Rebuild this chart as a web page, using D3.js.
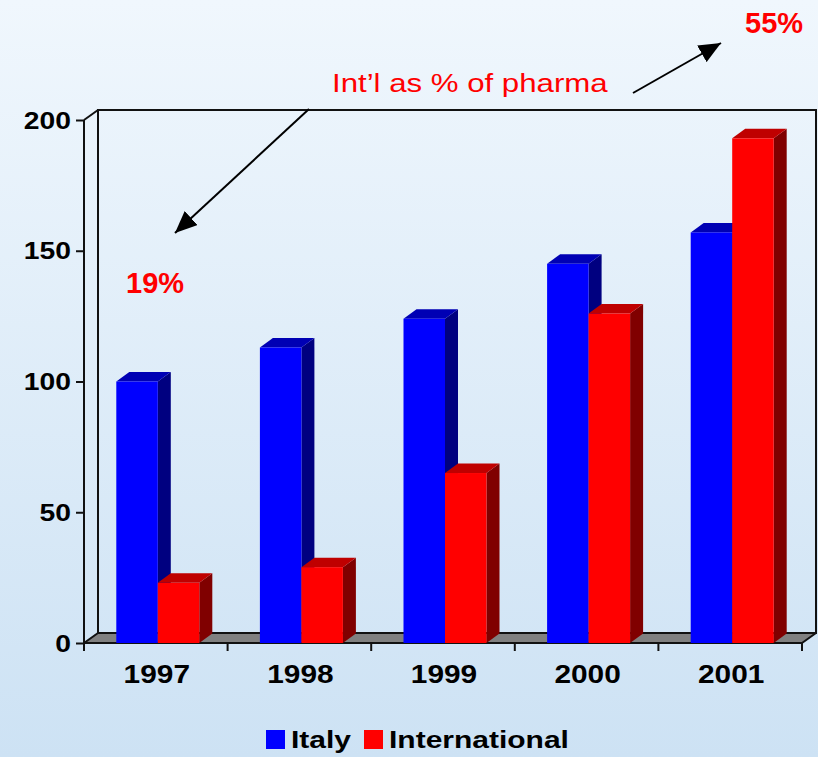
<!DOCTYPE html>
<html>
<head>
<meta charset="utf-8">
<script src="https://cdn.jsdelivr.net/npm/d3@7"></script>
<style>
	html, body { margin: 0; padding: 0; }
	body { width: 818px; height: 757px; overflow: hidden; }
	text { font-family: "Liberation Sans", Arial, sans-serif; }
</style>
</head>
<body>
<div id="chart"></div>
<script>

var years = ['1997', '1998', '1999', '2000', '2001'];
var seriesNames = ['Italy', 'International'];
var italy = [100, 113, 124, 145, 157];
var international = [23, 29, 65, 126, 193];
var yTicks = [0, 50, 100, 150, 200];
var shareLabels = ['19%', '55%'];
var noteLabel = 'Int\u2019l as % of pharma';

var colors = {
	Italy: { front: '#0000ff', top: '#0000b4', side: '#000080' },
	International: { front: '#ff0000', top: '#bf0000', side: '#800000' }
};

var chart = {
	width: 818,
	height: 757,
	left: 84,
	right: 802,
	top: 120,
	bottom: 643,
	wallDx: 14,
	wallDy: 10,
	barDx: 13,
	barDy: 9.5,
	barShift: 2
};

var svg = d3.select('#chart')
	.append('svg')
	.attr('width', chart.width)
	.attr('height', chart.height);

var defs = svg.append('defs');

var bg = defs.append('linearGradient')
	.attr('id', 'bg')
	.attr('x1', 0).attr('y1', 0).attr('x2', 0).attr('y2', 1);
bg.append('stop').attr('offset', '0%').attr('stop-color', '#f0f7fd');
bg.append('stop').attr('offset', '100%').attr('stop-color', '#cde2f4');

defs.append('marker')
	.attr('id', 'arrow')
	.attr('viewBox', '0 0 10 10')
	.attr('refX', 10).attr('refY', 5)
	.attr('markerWidth', 22).attr('markerHeight', 19)
	.attr('markerUnits', 'userSpaceOnUse')
	.attr('orient', 'auto')
	.attr('preserveAspectRatio', 'none')
	.append('path')
	.attr('d', 'M0,0 L10,5 L0,10 Z')
	.attr('fill', '#000');

svg.append('rect')
	.attr('width', chart.width)
	.attr('height', chart.height)
	.attr('fill', 'url(#bg)');

var data = years.map(function (y, i) {
	return { year: y, Italy: italy[i], International: international[i] };
});

var x0 = d3.scaleBand()
	.domain(years)
	.range([chart.left, chart.right])
	.paddingInner(0.422)
	.paddingOuter(0.211);

var x1 = d3.scaleBand()
	.domain(seriesNames)
	.range([0, x0.bandwidth()]);

var yScale = d3.scaleLinear()
	.domain([0, 200])
	.range([chart.bottom, chart.top]);

var dx = chart.wallDx, dy = chart.wallDy;

// walls + floor
var g = svg.append('g');

g.append('polygon')
	.attr('points', [
		[chart.left + dx, chart.top - dy],
		[chart.right + dx, chart.top - dy],
		[chart.right + dx, chart.bottom - dy],
		[chart.left + dx, chart.bottom - dy]
	].join(' '))
	.attr('fill', 'none')
	.attr('stroke', '#111')
	.attr('stroke-width', 2);

g.append('polygon')
	.attr('points', [
		[chart.left, chart.bottom],
		[chart.left + dx, chart.bottom - dy],
		[chart.right + dx, chart.bottom - dy],
		[chart.right, chart.bottom]
	].join(' '))
	.attr('fill', '#808080')
	.attr('stroke', '#111')
	.attr('stroke-width', 2)
	.attr('stroke-linejoin', 'round');

g.append('line')
	.attr('x1', chart.left).attr('y1', chart.top)
	.attr('x2', chart.left + dx).attr('y2', chart.top - dy)
	.attr('stroke', '#111').attr('stroke-width', 2);

// y axis
var yAxis = d3.axisLeft(yScale)
	.tickValues(yTicks)
	.tickSize(8)
	.tickPadding(6)
	.tickFormat(d3.format('d'));

var yg = svg.append('g')
	.attr('class', 'y-axis')
	.attr('transform', 'translate(' + chart.left + ',0)')
	.call(yAxis);

yg.select('.domain')
	.attr('d', 'M0,' + chart.top + 'V' + (chart.bottom + 8))
	.attr('stroke', '#111').attr('stroke-width', 2);
yg.selectAll('.tick line').attr('stroke', '#111').attr('stroke-width', 2);
yg.selectAll('.tick text')
	.attr('x', null)
	.attr('dy', null)
	.attr('transform', 'translate(-13,8) scale(1.23,1)')
	.attr('fill', '#000')
	.style('font-size', '23px')
	.style('font-weight', 'bold');

// bars
var groups = svg.append('g')
	.selectAll('.group')
	.data(data)
	.enter()
	.append('g')
	.attr('class', 'group')
	.attr('transform', function (d) { return 'translate(' + (x0(d.year) + chart.barShift) + ',0)'; });

var bars = groups.selectAll('.bar')
	.data(function (d) {
		return seriesNames.map(function (s) { return { key: s, value: d[s] }; });
	})
	.enter()
	.append('g')
	.attr('class', 'bar');

var bdx = chart.barDx, bdy = chart.barDy;

bars.each(function (d) {
	var b = d3.select(this);
	var xl = x1(d.key), xr = x1(d.key) + x1.bandwidth();
	var yt = yScale(d.value), yb = yScale(0);
	var c = colors[d.key];

	b.append('polygon')
		.attr('points', [[xr, yt], [xr + bdx, yt - bdy], [xr + bdx, yb - bdy], [xr, yb]].join(' '))
		.attr('fill', c.side);
	b.append('polygon')
		.attr('points', [[xl, yt], [xl + bdx, yt - bdy], [xr + bdx, yt - bdy], [xr, yt]].join(' '))
		.attr('fill', c.top);
	b.append('rect')
		.attr('x', xl)
		.attr('y', yt)
		.attr('width', x1.bandwidth())
		.attr('height', yb - yt)
		.attr('fill', c.front);
});

// x axis ticks + labels
var bounds = years.map(function (y) { return x0(y) - x0.step() * x0.paddingInner() / 2; });
bounds.push(chart.right);

svg.append('g')
	.selectAll('line')
	.data(bounds)
	.enter()
	.append('line')
	.attr('x1', function (d) { return d; })
	.attr('x2', function (d) { return d; })
	.attr('y1', chart.bottom)
	.attr('y2', chart.bottom + 8)
	.attr('stroke', '#111')
	.attr('stroke-width', 2);

svg.append('g')
	.selectAll('text')
	.data(years)
	.enter()
	.append('text')
	.attr('transform', function (d) {
		return 'translate(' + (x0(d) + x0.bandwidth() / 2 + 1) + ',683) scale(1.17,1)';
	})
	.attr('text-anchor', 'middle')
	.style('font-size', '25.5px')
	.style('font-weight', 'bold')
	.text(function (d) { return d; });

// legend
var legend = svg.append('g')
	.selectAll('.legend')
	.data(seriesNames)
	.enter()
	.append('g')
	.attr('class', 'legend')
	.attr('transform', function (d, i) { return 'translate(' + [266, 364][i] + ',730)'; });

legend.append('rect')
	.attr('width', 19)
	.attr('height', 19)
	.attr('fill', function (d) { return colors[d].front; });

legend.append('text')
	.attr('transform', 'translate(25,18) scale(1.25,1)')
	.style('font-size', '24px')
	.style('font-weight', 'bold')
	.text(function (d) { return d; });

// annotations
svg.append('text')
	.attr('transform', 'translate(332,92) scale(1.2,1)')
	.attr('fill', '#ff0000')
	.style('font-size', '26px')
	.text(noteLabel);

svg.append('line')
	.attr('x1', 309).attr('y1', 109)
	.attr('x2', 175).attr('y2', 233)
	.attr('stroke', '#000')
	.attr('stroke-width', 2)
	.attr('marker-end', 'url(#arrow)');

svg.append('line')
	.attr('x1', 633).attr('y1', 93)
	.attr('x2', 721).attr('y2', 43)
	.attr('stroke', '#000')
	.attr('stroke-width', 2)
	.attr('marker-end', 'url(#arrow)');

svg.selectAll('.share')
	.data(shareLabels)
	.enter()
	.append('text')
	.attr('class', 'share')
	.attr('x', function (d, i) { return [126, 745][i]; })
	.attr('y', function (d, i) { return [293, 33][i]; })
	.attr('fill', '#ff0000')
	.style('font-size', '29px')
	.style('font-weight', 'bold')
	.text(function (d) { return d; });

</script>
</body>
</html>
